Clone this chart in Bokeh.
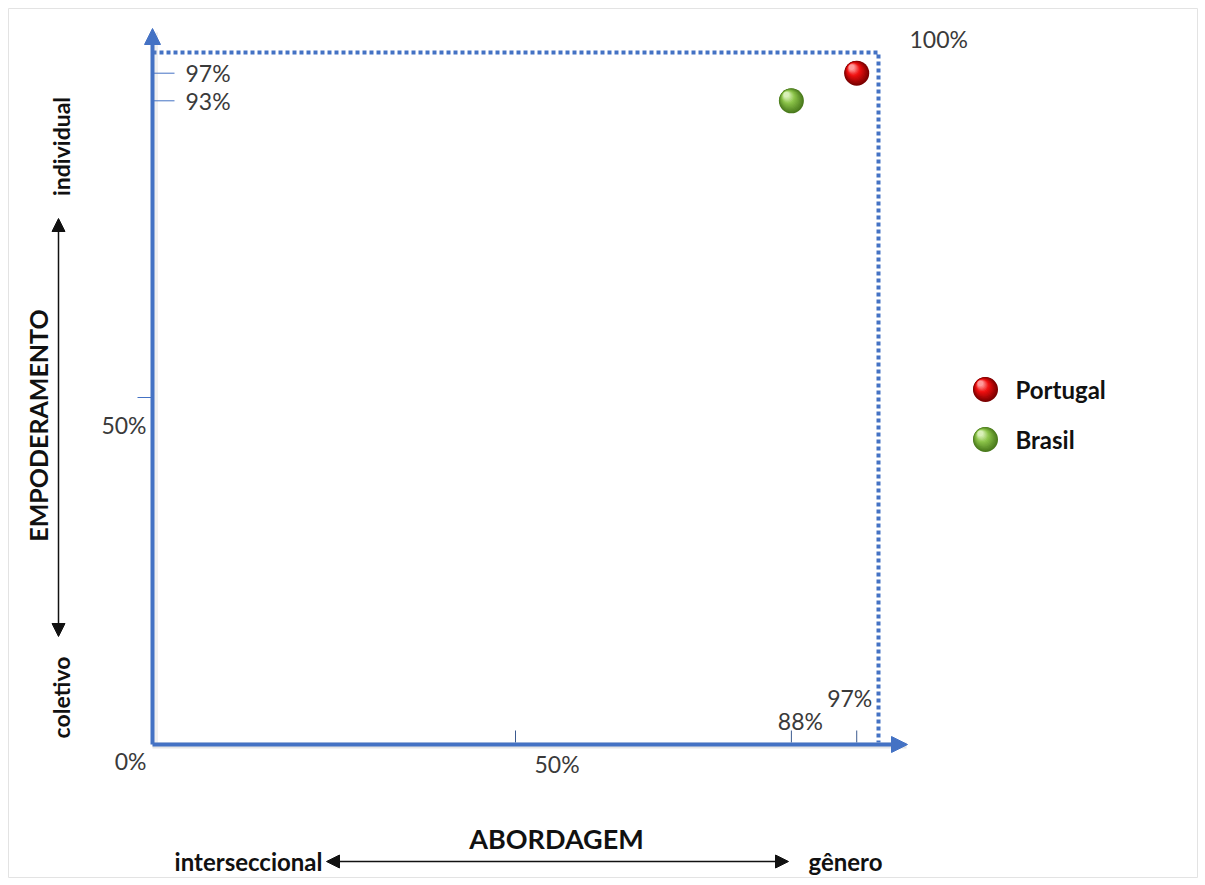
import math
from bokeh.plotting import figure
from bokeh.models import Arrow, NormalHead, Range1d
from bokeh.core.properties import value
from bokeh.embed import file_html
from bokeh.resources import INLINE

# ---- data -------------------------------------------------------------
countries = ["Portugal", "Brasil"]
abordagem = [97, 88]        # % towards "gênero"
empoderamento = [97, 93]    # % towards "individual"
x_ticks = [50, 88, 97]
y_ticks = [50, 93, 97]
axis_max = 100

# ---- styling ----------------------------------------------------------
BLUE = "#4472C4"
TEXT = "#3a3a3a"
DARK = "#111111"
FONT = value("Lato")
PCT_SIZE = "23px"
sphere_style = {
    "Portugal": ("#7a0000", "#f01010", "#ff9a9a"),
    "Brasil": ("#4a7a1c", "#8cc44a", "#d9f0b8"),
}

# pixel scale of one percentage unit inside the canvas
X_PX, Y_PX = 7.26, 6.9
ORIGIN_X, ORIGIN_Y = 152, 742
W, H, PAD = 1205, 885, 8


def dx(px):
    return px / X_PX


def dy(px):
    return px / Y_PX


p = figure(
    width=W, height=H, output_backend="svg", toolbar_location=None,
    x_range=Range1d(dx(PAD - ORIGIN_X), dx(W - PAD - ORIGIN_X)),
    y_range=Range1d(dy(ORIGIN_Y - (H - PAD)), dy(ORIGIN_Y - PAD)),
    min_border_left=PAD, min_border_right=PAD,
    min_border_top=PAD, min_border_bottom=PAD,
)
p.axis.visible = False
p.grid.visible = False
p.outline_line_color = "#e3e3e3"
p.outline_line_width = 1
p.background_fill_color = "white"
p.border_fill_color = "white"

# ---- frame: dotted 100% boundary ----------------------------------------
p.line([0, axis_max, axis_max], [axis_max, axis_max, 0],
       line_color=BLUE, line_width=4, line_dash="4 3")

# soft shadow under the axes
p.line([0, axis_max + dx(28)], [-dy(3), -dy(3)], line_color="#9a9a9a",
       line_width=6, line_alpha=0.25)
p.line([dx(3), dx(3)], [0, axis_max + dy(20)], line_color="#9a9a9a",
       line_width=5, line_alpha=0.15)

# ---- main axes with arrow heads ------------------------------------------
p.add_layout(Arrow(end=NormalHead(size=16, fill_color=BLUE, line_color=BLUE),
                   x_start=0, y_start=-dy(2), x_end=axis_max + dx(29), y_end=-dy(2),
                   line_color=BLUE, line_width=4))
p.add_layout(Arrow(end=NormalHead(size=16, fill_color=BLUE, line_color=BLUE),
                   x_start=0, y_start=-dy(2), x_end=0, y_end=axis_max + dy(24),
                   line_color=BLUE, line_width=4))

# ---- ticks and tick labels ----------------------------------------------
for v in y_ticks:
    if v == 50:
        p.line([-dx(15), 0], [v, v], line_color=BLUE, line_width=1)
        p.text([-dx(6)], [v - dy(27)], text=[f"{v}%"], text_font=FONT,
               text_font_size=PCT_SIZE, text_color=TEXT,
               text_align="right", text_baseline="middle")
    else:
        p.line([0, dx(22)], [v, v], line_color=BLUE, line_width=1)
        p.text([dx(33)], [v], text=[f"{v}%"], text_font=FONT,
               text_font_size=PCT_SIZE, text_color=TEXT,
               text_align="left", text_baseline="middle")

x_label_pos = {50: (dx(19), -dy(21), "left"),
               88: (dx(9), dy(22), "center"),
               97: (-dx(7), dy(45), "center")}
for v in x_ticks:
    p.line([v, v], [0, dy(12)], line_color="#3b5a8f", line_width=1)
    ox, oy, al = x_label_pos[v]
    p.text([v + ox], [oy], text=[f"{v}%"], text_font=FONT,
           text_font_size=PCT_SIZE, text_color=TEXT,
           text_align=al, text_baseline="middle")

p.text([-dx(6)], [-dy(18)], text=["0%"], text_font=FONT, text_font_size=PCT_SIZE,
       text_color=TEXT, text_align="right", text_baseline="middle")
p.text([axis_max + dx(31)], [axis_max + dy(14)], text=["100%"], text_font=FONT,
       text_font_size=PCT_SIZE, text_color=TEXT, text_align="left",
       text_baseline="middle")


# ---- shaded spheres -----------------------------------------------------
def mix(c1, c2, t):
    a = [int(c1[i:i + 2], 16) for i in (1, 3, 5)]
    b = [int(c2[i:i + 2], 16) for i in (1, 3, 5)]
    return "#" + "".join(f"{round(a[i] + (b[i] - a[i]) * t):02x}" for i in range(3))


def sphere(xs, ys, dark, mid, light, size):
    steps = 14
    for k in range(steps):
        t = k / (steps - 1)
        s = size * (1 - 0.78 * t)
        ox = -dx(0.2 * size * t)
        oy = dy(0.24 * size * t)
        col = mix(dark, mid, t / 0.6) if t < 0.6 else mix(mid, light, (t - 0.6) / 0.4)
        p.scatter([x + ox for x in xs], [y + oy for y in ys], size=s,
                  fill_color=col, line_color=None)


for name, xv, yv in zip(countries, abordagem, empoderamento):
    d, m, l = sphere_style[name]
    sphere([xv], [yv], d, m, l, 25)

# ---- legend ---------------------------------------------------------------
leg_x = dx(985 - ORIGIN_X)
leg_y = [dy(ORIGIN_Y - 389), dy(ORIGIN_Y - 439)]
for name, ly in zip(countries, leg_y):
    d, m, l = sphere_style[name]
    sphere([leg_x], [ly], d, m, l, 25)
    p.text([leg_x + dx(30)], [ly], text=[name], text_font=FONT,
           text_font_style="bold", text_font_size="24px", text_color=DARK,
           text_align="left", text_baseline="middle")

# ---- dimension captions -------------------------------------------------
# vertical: EMPODERAMENTO (coletivo <-> individual)
ax_x = dx(58 - ORIGIN_X)
p.add_layout(Arrow(start=NormalHead(size=13, fill_color=DARK, line_color=DARK),
                   end=NormalHead(size=13, fill_color=DARK, line_color=DARK),
                   x_start=ax_x, y_start=dy(ORIGIN_Y - 636),
                   x_end=ax_x, y_end=dy(ORIGIN_Y - 218),
                   line_color=DARK, line_width=1.5))
p.text([dx(37 - ORIGIN_X)], [dy(ORIGIN_Y - 425)], text=["EMPODERAMENTO"],
       text_font=FONT, text_font_style="bold",
       text_font_size="25px", text_color=DARK, angle=math.pi / 2,
       text_align="center", text_baseline="middle")
p.text([dx(60 - ORIGIN_X)], [dy(ORIGIN_Y - 146)], text=["individual"],
       text_font=FONT, text_font_style="bold", text_font_size="23px",
       text_color=DARK, angle=math.pi / 2, text_align="center",
       text_baseline="middle")
p.text([dx(60 - ORIGIN_X)], [dy(ORIGIN_Y - 697)], text=["coletivo"],
       text_font=FONT, text_font_style="bold", text_font_size="23px",
       text_color=DARK, angle=math.pi / 2, text_align="center",
       text_baseline="middle")

# horizontal: ABORDAGEM (interseccional <-> gênero)
bx_y = dy(ORIGIN_Y - 861)
p.add_layout(Arrow(start=NormalHead(size=13, fill_color=DARK, line_color=DARK),
                   end=NormalHead(size=13, fill_color=DARK, line_color=DARK),
                   x_start=dx(326 - ORIGIN_X), y_start=bx_y,
                   x_end=dx(788 - ORIGIN_X), y_end=bx_y,
                   line_color=DARK, line_width=1.5))
p.text([dx(556 - ORIGIN_X)], [dy(ORIGIN_Y - 838)], text=["ABORDAGEM"],
       text_font=FONT, text_font_style="bold", text_font_size="27px",
       text_color=DARK, text_align="center", text_baseline="middle")
p.text([dx(322 - ORIGIN_X)], [bx_y], text=["interseccional"],
       text_font=FONT, text_font_style="bold", text_font_size="24px",
       text_color=DARK, text_align="right", text_baseline="middle")
p.text([dx(808 - ORIGIN_X)], [bx_y], text=["gênero"],
       text_font=FONT, text_font_style="bold", text_font_size="24px",
       text_color=DARK, text_align="left", text_baseline="middle")

open("out.html", "w").write(file_html(p, INLINE))
